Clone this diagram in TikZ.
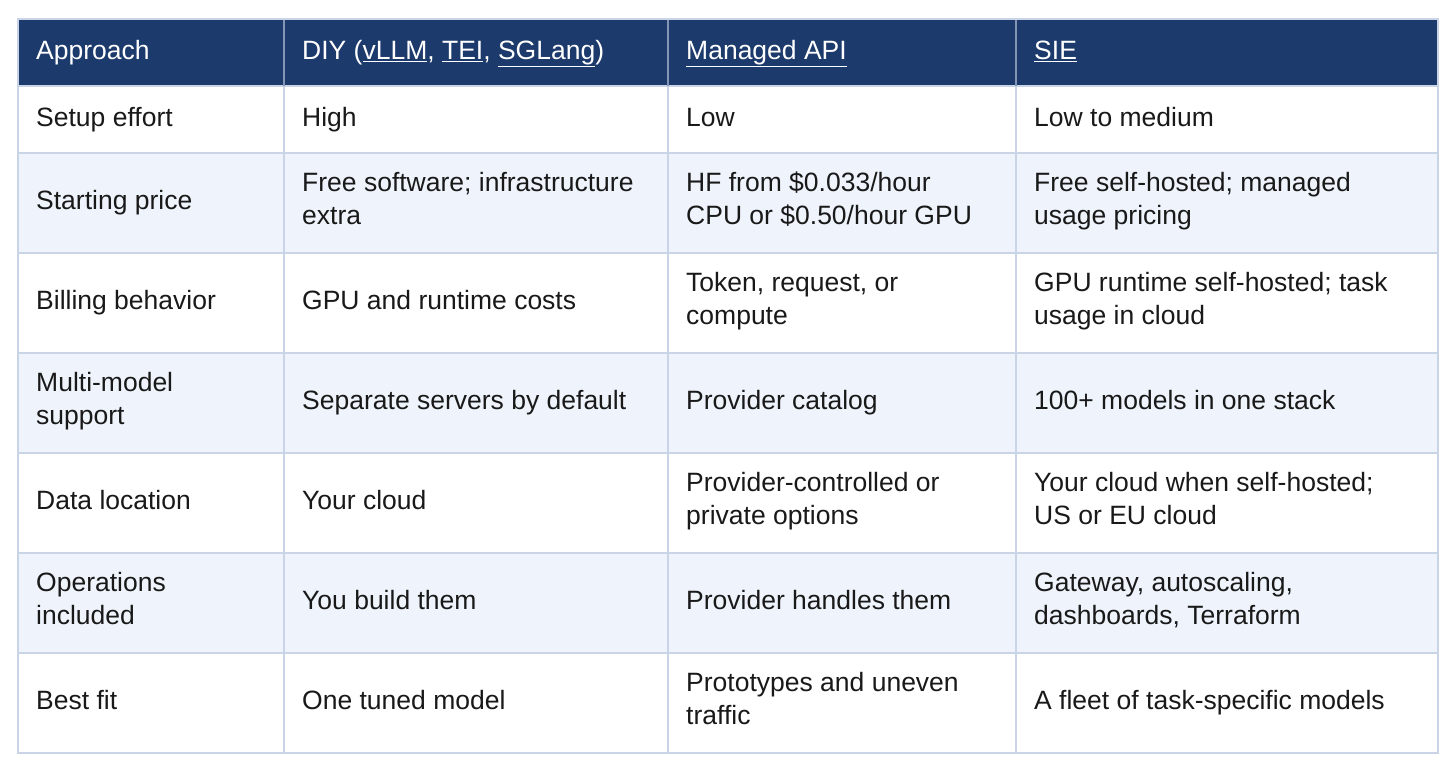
\documentclass[tikz,border=0pt]{standalone}
\usepackage{fontspec}
\setmainfont{Liberation Sans}
\begin{document}
\begin{tikzpicture}[x=1pt,y=-1pt,
  cell/.style={anchor=west,align=left,inner sep=0pt,font=\fontsize{26.5}{33}\selectfont,text=black!90,
    execute at begin node=\strut, execute at end node=\strut},
  head/.style={cell,text=white},
  grid/.style={draw=gridc,line width=1.5pt}]
\definecolor{headc}{HTML}{1C3A6B}
\definecolor{altc}{HTML}{EFF4FC}
\definecolor{gridc}{HTML}{C9D4E6}
\useasboundingbox (0,0) rectangle (1456,776);
\fill[white] (0,0) rectangle (1456,776);
\def\xa{18}\def\xb{284}\def\xc{668}\def\xd{1016}\def\xe{1438}
\fill[headc] (\xa,19) rectangle (\xe,86);
\foreach \t/\b in {153/253,353/453,553/653} \fill[altc] (\xa,\t) rectangle (\xe,\b);
\foreach \y in {86,153,253,353,453,553,653,753} \draw[grid] (\xa,\y) -- (\xe,\y);
\foreach \x in {\xa,\xb,\xc,\xd,\xe} \draw[grid] (\x,86) -- (\x,753);
\foreach \x in {\xb,\xc,\xd} \draw[draw=gridc!60!headc,line width=1.5pt] (\x,19) -- (\x,86);
\draw[draw=gridc,line width=1.5pt] (\xa,19) rectangle (\xe,753);
\node[head] (h1) at (36,53) {Approach};
\node[head] (h2) at (302,53) {DIY (\underline{vLLM}, \underline{TEI}, \underline{SGLang})};
\node[head] (h3) at (686,53) {\underline{Managed API}};
\node[head] (h4) at (1034,53) {\underline{SIE}};
\node[cell] (a1) at (36,120) {Setup effort};
\node[cell] (b1) at (302,120) {High};
\node[cell] (c1) at (686,120) {Low};
\node[cell] (d1) at (1034,120) {Low to medium};
\node[cell] (a2) at (36,203) {Starting price};
\node[cell] (b2) at (302,203) {Free software; infrastructure\\extra};
\node[cell] (c2) at (686,203) {HF from \$0.033/hour\\CPU or \$0.50/hour GPU};
\node[cell] (d2) at (1034,203) {Free self-hosted; managed\\usage pricing};
\node[cell] (a3) at (36,303) {Billing behavior};
\node[cell] (b3) at (302,303) {GPU and runtime costs};
\node[cell] (c3) at (686,303) {Token, request, or\\compute};
\node[cell] (d3) at (1034,303) {GPU runtime self-hosted; task\\usage in cloud};
\node[cell] (a4) at (36,403) {Multi-model\\support};
\node[cell] (b4) at (302,403) {Separate servers by default};
\node[cell] (c4) at (686,403) {Provider catalog};
\node[cell] (d4) at (1034,403) {100+ models in one stack};
\node[cell] (a5) at (36,503) {Data location};
\node[cell] (b5) at (302,503) {Your cloud};
\node[cell] (c5) at (686,503) {Provider-controlled or\\private options};
\node[cell] (d5) at (1034,503) {Your cloud when self-hosted;\\US or EU cloud};
\node[cell] (a6) at (36,603) {Operations\\included};
\node[cell] (b6) at (302,603) {You build them};
\node[cell] (c6) at (686,603) {Provider handles them};
\node[cell] (d6) at (1034,603) {Gateway, autoscaling,\\dashboards, Terraform};
\node[cell] (a7) at (36,703) {Best fit};
\node[cell] (b7) at (302,703) {One tuned model};
\node[cell] (c7) at (686,703) {Prototypes and uneven\\traffic};
\node[cell] (d7) at (1034,703) {A fleet of task-specific models};
\end{tikzpicture}
\end{document}
